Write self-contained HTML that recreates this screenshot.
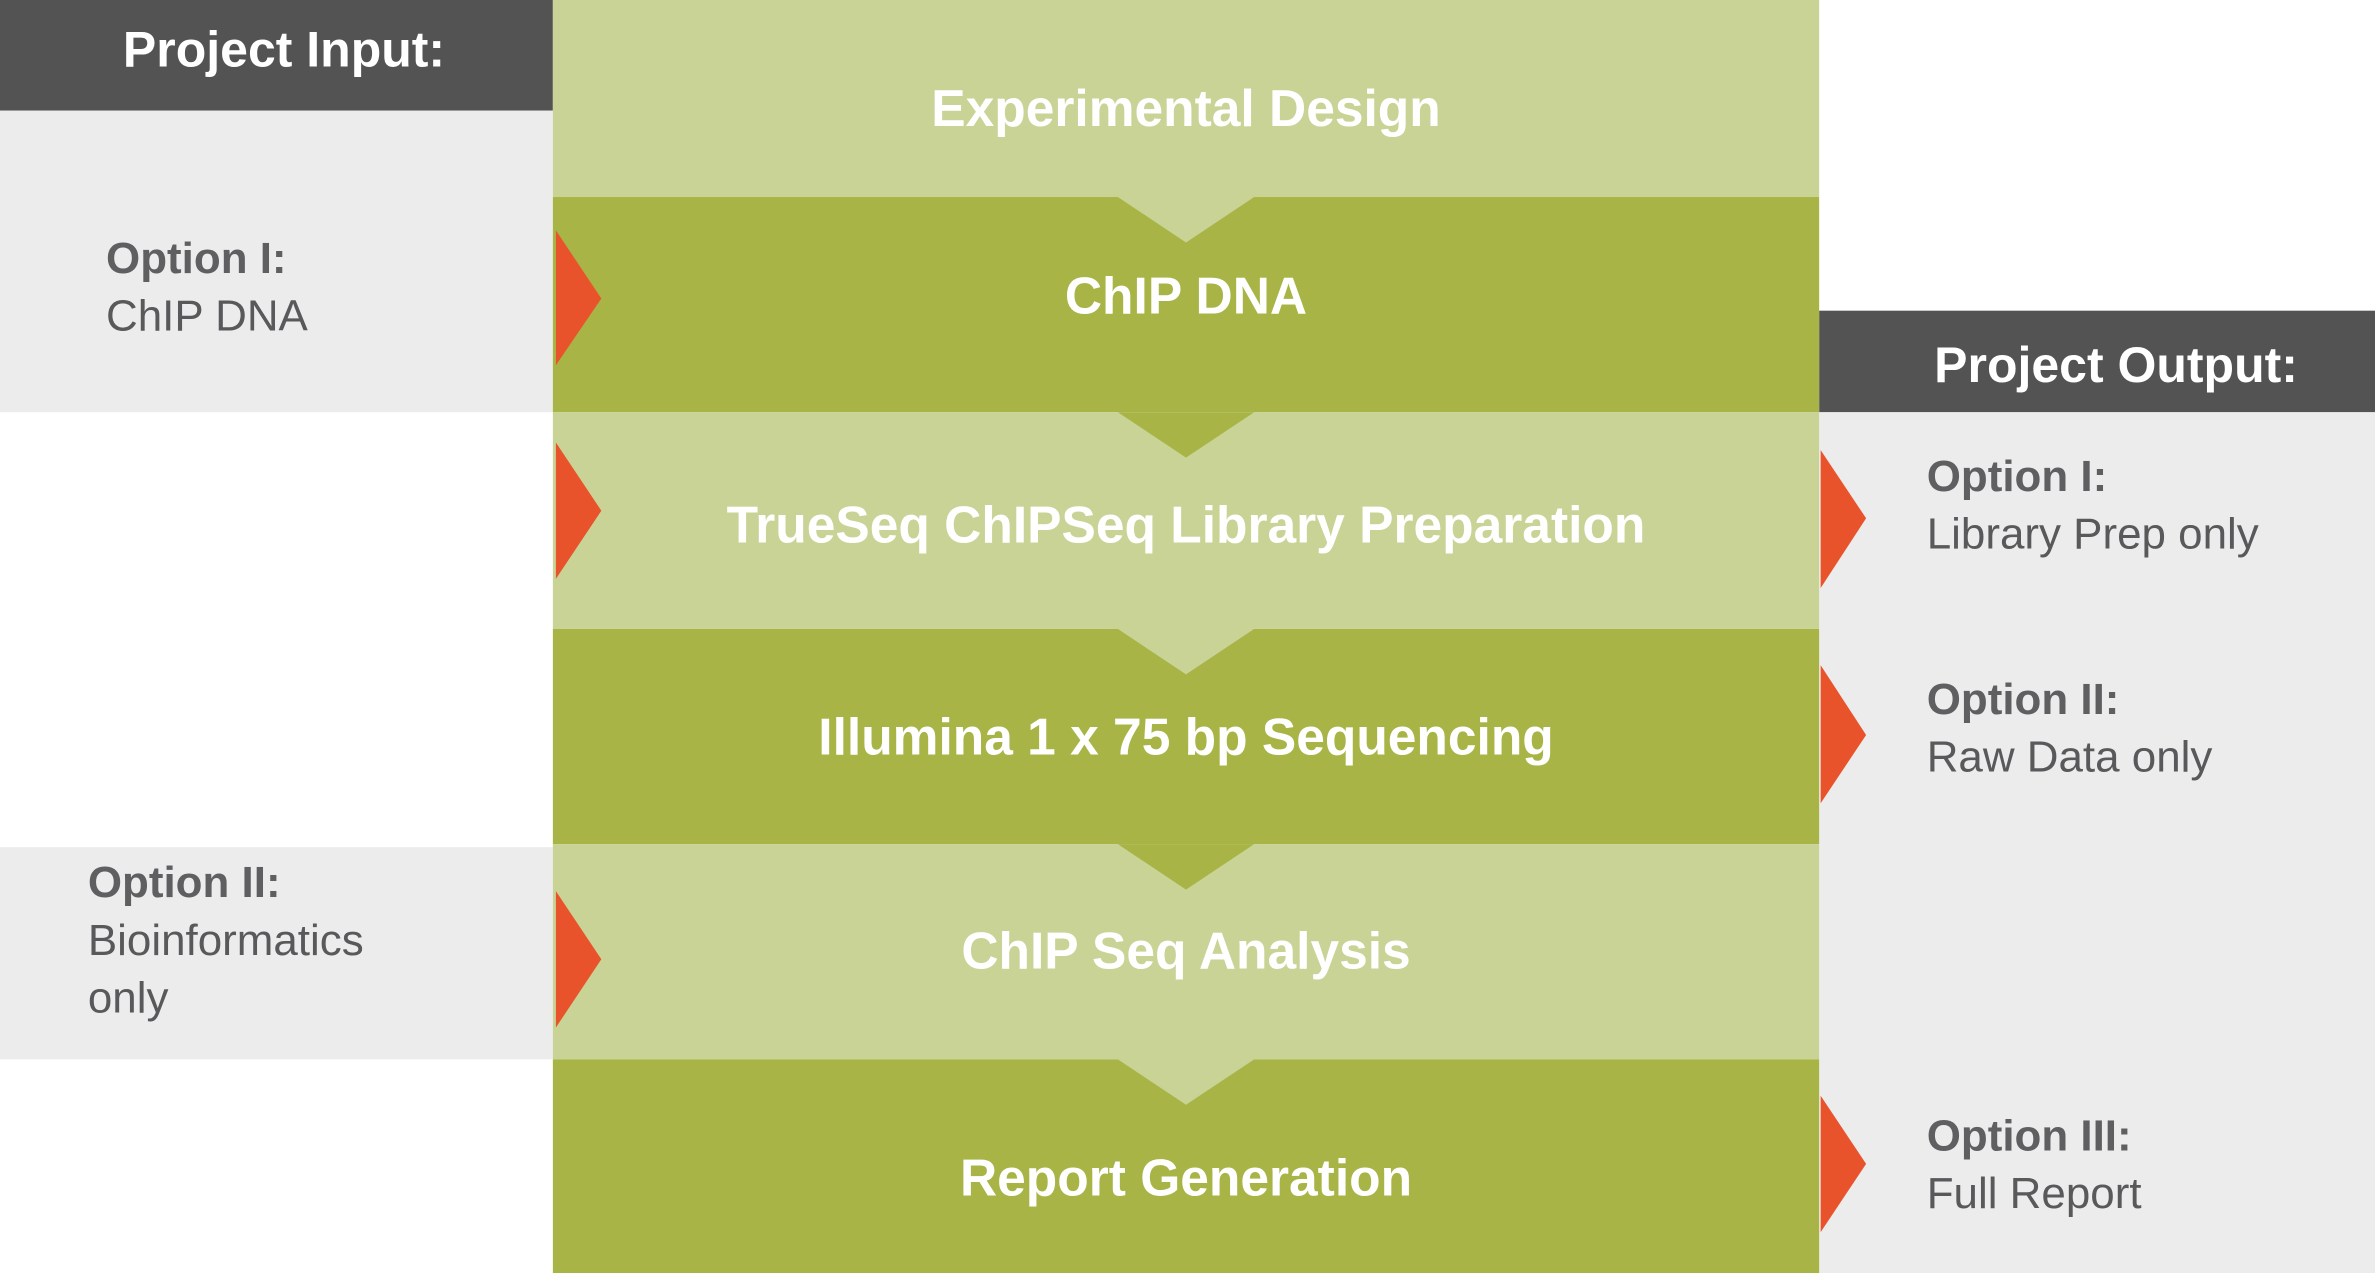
<!DOCTYPE html>
<html><head><meta charset="utf-8"><style>
html,body{margin:0;padding:0;background:#fff;}
body{width:2375px;height:1273px;overflow:hidden;position:relative;}
#c{position:absolute;left:0;top:0;width:1568px;height:840px;transform:scale(1.5147,1.5155);transform-origin:0 0;font-family:"Liberation Sans",sans-serif;}
.r{position:absolute;}
.t{position:absolute;white-space:nowrap;}
.ct{position:absolute;left:365px;width:836px;text-align:center;color:#fff;font-weight:bold;font-size:34px;}
.op{position:absolute;color:#59595b;font-size:29px;line-height:38px;}
.op b{color:#5f5f61;}
</style></head><body><div id="c">
<div class="r" style="left:0;top:0;width:365px;height:73px;background:#545354"></div>
<div class="r" style="left:0;top:73px;width:365px;height:199px;background:#ececec"></div>
<div class="r" style="left:0;top:559px;width:365px;height:140px;background:#ececec"></div>
<div class="r" style="left:1201px;top:205px;width:367px;height:67px;background:#545354"></div>
<div class="r" style="left:1201px;top:272px;width:367px;height:568px;background:#ececec"></div>
<div class="r" style="left:365px;top:0;width:836px;height:130px;background:#c9d396"></div>
<div class="r" style="left:365px;top:130px;width:836px;height:142px;background:#a8b546"></div>
<div class="r" style="left:365px;top:272px;width:836px;height:143px;background:#c9d396"></div>
<div class="r" style="left:365px;top:415px;width:836px;height:142px;background:#a8b546"></div>
<div class="r" style="left:365px;top:557px;width:836px;height:142px;background:#c9d396"></div>
<div class="r" style="left:365px;top:699px;width:836px;height:141px;background:#a8b546"></div>
<svg class="r" style="left:0;top:0" width="1568" height="840">
<polygon points="738,130 828,130 783,160" fill="#c9d396"/>
<polygon points="738,272 828,272 783,302" fill="#a8b546"/>
<polygon points="738,415 828,415 783,445" fill="#c9d396"/>
<polygon points="738,557 828,557 783,587" fill="#a8b546"/>
<polygon points="738,699 828,699 783,729" fill="#c9d396"/>
<g fill="#e8532b">
<polygon points="367,152 397,197 367,241"/>
<polygon points="367,292 397,337 367,382"/>
<polygon points="367,588 397,633 367,678"/>
<polygon points="1202,297 1232,342 1202,388"/>
<polygon points="1202,439 1232,485 1202,530"/>
<polygon points="1202,723 1232,768 1202,813"/>
</g></svg>
<div class="t" style="left:0;width:375px;top:14px;text-align:center;color:#fff;font-weight:bold;font-size:33px;">Project Input:</div>
<div class="t" style="left:1201px;width:392px;top:222px;text-align:center;color:#fff;font-weight:bold;font-size:33px;">Project Output:</div>
<div class="ct" style="top:53px">Experimental Design</div>
<div class="ct" style="top:177px">ChIP DNA</div>
<div class="ct" style="top:328px">TrueSeq ChIPSeq Library Preparation</div>
<div class="ct" style="top:468px">Illumina 1 x 75 bp Sequencing</div>
<div class="ct" style="top:609px">ChIP Seq Analysis</div>
<div class="ct" style="top:759px">Report Generation</div>
<div class="op" style="left:70px;top:152px"><b>Option I:</b><br>ChIP DNA</div>
<div class="op" style="left:58px;top:564px"><b>Option II:</b><br>Bioinformatics<br>only</div>
<div class="op" style="left:1272px;top:296px"><b>Option I:</b><br>Library Prep only</div>
<div class="op" style="left:1272px;top:443px"><b>Option II:</b><br>Raw Data only</div>
<div class="op" style="left:1272px;top:731px"><b>Option III:</b><br>Full Report</div>
</div></body></html>
